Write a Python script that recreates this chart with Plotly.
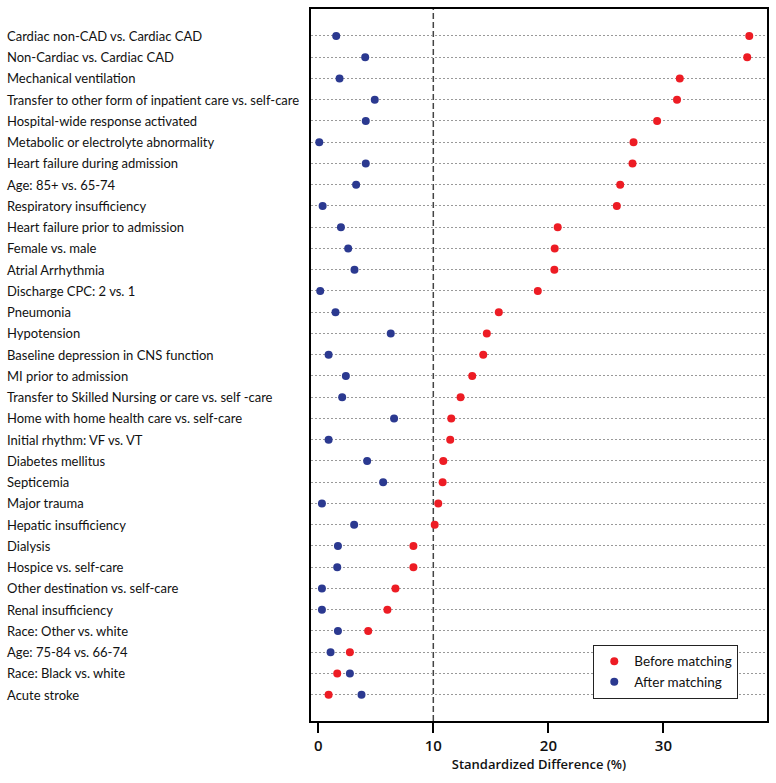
import plotly.graph_objects as go

labels = [
    "Cardiac non-CAD vs. Cardiac CAD",
    "Non-Cardiac vs. Cardiac CAD",
    "Mechanical ventilation",
    "Transfer to other form of inpatient care vs. self-care",
    "Hospital-wide response activated",
    "Metabolic or electrolyte abnormality",
    "Heart failure during admission",
    "Age: 85+ vs. 65-74",
    "Respiratory insufficiency",
    "Heart failure prior to admission",
    "Female vs. male",
    "Atrial Arrhythmia",
    "Discharge CPC: 2 vs. 1",
    "Pneumonia",
    "Hypotension",
    "Baseline depression in CNS function",
    "MI prior to admission",
    "Transfer to Skilled Nursing or care vs. self -care",
    "Home with home health care vs. self-care",
    "Initial rhythm: VF vs. VT",
    "Diabetes mellitus",
    "Septicemia",
    "Major trauma",
    "Hepatic insufficiency",
    "Dialysis",
    "Hospice vs. self-care",
    "Other destination vs. self-care",
    "Renal insufficiency",
    "Race: Other vs. white",
    "Age: 75-84 vs. 66-74",
    "Race: Black vs. white",
    "Acute stroke",
]

before_matching = [37.46, 37.28, 31.42, 31.18, 29.45, 27.40, 27.31, 26.24, 25.95, 20.81,
                   20.55, 20.52, 19.08, 15.69, 14.65, 14.34, 13.38, 12.37, 11.56, 11.47,
                   10.87, 10.81, 10.43, 10.12, 8.27, 8.27, 6.71, 6.01, 4.34, 2.75, 1.65, 0.90]

after_matching = [1.56, 4.08, 1.85, 4.91, 4.13, 0.09, 4.13, 3.29, 0.38, 1.97,
                  2.60, 3.15, 0.17, 1.50, 6.30, 0.90, 2.40, 2.08, 6.59, 0.90,
                  4.25, 5.64, 0.32, 3.12, 1.71, 1.65, 0.32, 0.32, 1.71, 1.07, 2.75, 3.76]

x_ticks = [0, 10, 20, 30]
threshold = 10

RED = "#ED1C24"
BLUE = "#2B3990"
LABEL_FONT = "Lato, Roboto, sans-serif"

fig = go.Figure()
fig.add_trace(go.Scatter(
    x=before_matching, y=labels, mode="markers", name="Before matching",
    marker=dict(color=RED, size=8, line=dict(width=0)),
))
fig.add_trace(go.Scatter(
    x=after_matching, y=labels, mode="markers", name="After matching",
    marker=dict(color=BLUE, size=8, line=dict(width=0)),
))

fig.add_shape(type="line", xref="x", yref="paper", x0=threshold, x1=threshold, y0=0, y1=1,
              line=dict(color="#444444", width=1.5, dash="6px,3px"), layer="below")

for lab in labels:
    fig.add_annotation(text=lab, xref="paper", yref="y", x=-0.672, y=lab,
                       xanchor="left", yanchor="middle", showarrow=False,
                       font=dict(family=LABEL_FONT, size=13, color="#111111"))

fig.update_layout(
    width=776, height=783,
    margin=dict(l=311, r=8, t=7, b=62),
    plot_bgcolor="white", paper_bgcolor="white",
    showlegend=True,
    legend=dict(x=0.937, y=0.031, xanchor="right", yanchor="bottom",
                bgcolor="white", bordercolor="#222222", borderwidth=1,
                font=dict(family=LABEL_FONT, size=13.5, color="#111111"),
                itemwidth=30, tracegroupgap=0),
    xaxis=dict(range=[-0.63, 39.0], tickvals=x_ticks, showgrid=False, zeroline=False,
               showline=True, linecolor="black", linewidth=2, mirror=True,
               ticks="outside", ticklen=10, tickwidth=1.5, tickcolor="black",
               tickfont=dict(family="Open Sans", size=15, color="#111111", weight=600),
               title=dict(text="Standardized Difference (%)",
                          font=dict(family="Open Sans", size=13, color="#111111", weight=600),
                          standoff=6)),
    yaxis=dict(range=[len(labels) - 1 + 1.24, -1.27], showticklabels=False,
               showgrid=True, gridcolor="#999999", griddash="2px,2px", gridwidth=1,
               zeroline=False, showline=True, linecolor="black", linewidth=2, mirror=True,
               ticks=""),
)

fig.write_html("out.html", config={"displayModeBar": False},
               post_script="document.body.style.margin='0px';")
